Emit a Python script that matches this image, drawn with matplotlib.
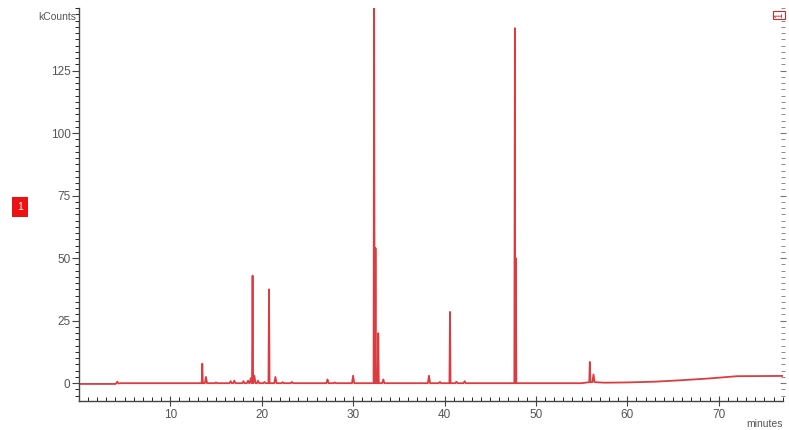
import numpy as np
import matplotlib
matplotlib.use("Agg")
import matplotlib.pyplot as plt
from matplotlib.ticker import MultipleLocator

# retention time (min) and peak height (kCounts)
peak_times = [4.2, 13.5, 13.9, 15.0, 16.6, 17.0, 18.0, 18.5, 18.8, 19.0, 19.2, 19.6,
              20.3, 20.8, 21.5, 22.3, 23.3, 27.2, 28.0, 30.0, 32.3, 32.45, 32.75, 33.3,
              38.3, 39.5, 40.6, 41.3, 42.2, 47.7, 47.8, 55.9, 56.3]
peak_heights = [0.6, 7.8, 2.5, 0.3, 0.8, 1.0, 0.8, 1.0, 2.0, 43.0, 3.0, 1.0,
                0.5, 37.5, 2.5, 0.4, 0.5, 1.5, 0.3, 3.0, 160.0, 54.0, 20.0, 1.5,
                3.0, 0.5, 28.5, 0.6, 0.8, 142.0, 50.0, 8.5, 3.5]
peak_bases = [-0.1, 0, 0, 0, 0, 0, 0, 0, 0, 0, 0, 0,
              0, 0, 0, 0, 0, 0, 0, 0, 0, 0, 0, 0,
              0, 0, 0, 0, 0, 0, 0, 0.4, 0.4]

# baseline drift
base_times = [0, 4.0, 4.6, 55.0, 57.5, 60.0, 63.0, 66.0, 69.0, 72.0, 77.0]
base_values = [-0.3, -0.3, 0.0, 0.0, 0.2, 0.3, 0.6, 1.2, 1.9, 2.8, 2.9]

x_ticks = [10, 20, 30, 40, 50, 60, 70]
y_ticks = [0, 25, 50, 75, 100, 125]


def build_trace():
    pts = list(zip(base_times, base_values))
    for t, h, b in zip(peak_times, peak_heights, peak_bases):
        w = 0.06 if h > 5 else 0.12
        pts += [(t - w, b), (t, h), (t + w, b)]
    pts.sort()
    return np.array([p[0] for p in pts]), np.array([p[1] for p in pts])


def main():
    plt.rcParams["font.family"] = ["Liberation Sans", "DejaVu Sans"]
    fig = plt.figure(figsize=(7.89, 4.30), dpi=100)
    ax = fig.add_axes([0.100, 0.067, 0.892, 0.914])
    t, y = build_trace()
    ax.plot(t, y, color="#d9262b", lw=1.3, alpha=0.9)

    ax.set_xlim(0, 77)
    ax.set_ylim(-7.2, 150)
    ax.set_xticks(x_ticks)
    ax.set_yticks(y_ticks)
    ax.xaxis.set_minor_locator(MultipleLocator(1))
    ax.yaxis.set_minor_locator(MultipleLocator(2.5))
    for s in ["top", "right"]:
        ax.spines[s].set_visible(False)
    for s in ["left", "bottom"]:
        ax.spines[s].set_color("#444444")
        ax.spines[s].set_linewidth(1.0)
    ax.tick_params(axis="both", colors="#444444", labelsize=8.5, labelcolor="#555555")
    ax.tick_params(axis="y", which="major", direction="out", length=5, pad=1)
    ax.tick_params(axis="y", which="minor", direction="out", length=3)
    ax.tick_params(axis="x", which="major", direction="inout", length=7, pad=2)
    ax.tick_params(axis="x", which="minor", direction="in", length=3)

    # right-hand tick column without a spine
    ax2 = ax.twinx()
    ax2.set_ylim(ax.get_ylim())
    ax2.set_yticks(y_ticks)
    ax2.yaxis.set_minor_locator(MultipleLocator(2.5))
    for s in ax2.spines.values():
        s.set_visible(False)
    ax2.tick_params(axis="y", which="both", colors="#777777", labelright=False,
                    direction="inout", length=3)
    ax2.tick_params(axis="y", which="major", length=5)

    fig.text(0.097, 0.96, "kCounts", ha="right", va="center", fontsize=7.5, color="#555555")
    fig.text(0.992, 0.015, "minutes", ha="right", va="center", fontsize=7.5, color="#555555")
    fig.text(20 / 789, 1 - 207 / 430, "1", ha="center", va="center", fontsize=7.5,
             color="white", bbox=dict(boxstyle="square,pad=0.45", fc="#ee1111", ec="none"))
    fig.text(779 / 789, 1 - 15 / 430, "1", ha="center", va="center", fontsize=7,
             rotation=90, color="#d9262b",
             bbox=dict(boxstyle="square,pad=0.15", fc="white", ec="#d9262b", lw=0.8))

    fig.savefig("out.png", dpi=100)


if __name__ == "__main__":
    main()
